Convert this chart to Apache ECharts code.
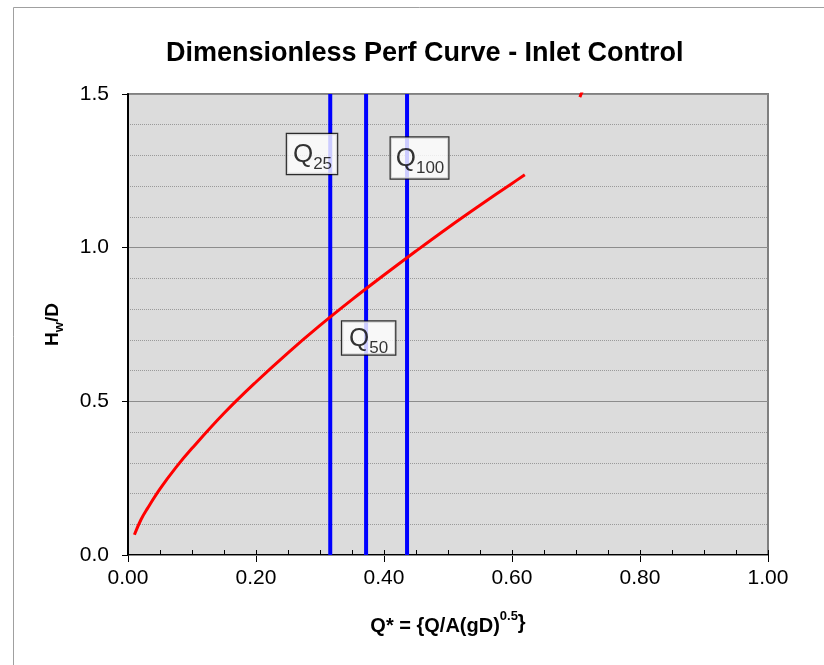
<!DOCTYPE html>
<html>
<head>
<meta charset="utf-8">
<script src="https://cdn.jsdelivr.net/npm/echarts@6/dist/echarts.min.js"></script>
<style>
html,body{margin:0;padding:0;background:#fff;}
#chart{width:824px;height:665px;}
</style>
</head>
<body>
<div id="chart"></div>
<script>
// Performance curve (Q*, Hw/D)
const curveX = [0.01, 0.02, 0.03, 0.05, 0.075, 0.10, 0.15, 0.20, 0.25, 0.30, 0.35, 0.40, 0.45, 0.50, 0.55, 0.60, 0.62];
const curveY = [0.066, 0.114, 0.150, 0.215, 0.285, 0.347, 0.461, 0.563, 0.658, 0.747, 0.831, 0.911, 0.989, 1.065, 1.138, 1.209, 1.237];
// Second (submerged) branch, mostly above the plotted range
const branch2X = [0.706, 0.72];
const branch2Y = [1.49, 1.56];
// Design flows Q*
const flowNames = ['25', '50', '100'];
const flowQ = [0.316, 0.372, 0.436];
// Label anchor values (x, y in data units)
const labelX = [0.2875, 0.376, 0.4555];
const labelY = [1.305, 0.706, 1.292];
// Axis ticks
const xTicks = ['0.00', '0.20', '0.40', '0.60', '0.80', '1.00'];
const yTicks = ['0.0', '0.5', '1.0', '1.5'];

const FONT = '"Liberation Sans", Arial, sans-serif';
const chart = echarts.init(document.getElementById('chart'), null, {renderer: 'canvas'});

const series = [];
series.push({
  type: 'line', name: 'curve', data: curveX.map((x, i) => [x, curveY[i]]),
  smooth: 0.4, symbol: 'none', lineStyle: {color: '#FF0000', width: 3}, z: 5, silent: true
});
series.push({
  type: 'line', name: 'curve2', data: branch2X.map((x, i) => [x, branch2Y[i]]),
  symbol: 'none', lineStyle: {color: '#FF0000', width: 3}, clip: true, z: 5, silent: true
});
flowQ.forEach((q, i) => {
  series.push({
    type: 'line', name: 'Q' + flowNames[i], data: [[q, 0], [q, 1.5]],
    symbol: 'none', lineStyle: {color: '#0000FF', width: 4}, z: 4, silent: true
  });
});
const pads = [[6, 5, 6, 6], [2, 7, 3, 7], [6, 4, 7, 5]];
series.push({
  type: 'scatter', name: 'labels', symbolSize: 0, z: 10, silent: true,
  data: flowNames.map((n, i) => ({
    value: [labelX[i], labelY[i]],
    label: {
      show: true, position: 'inside',
      formatter: '{q|Q}{s|' + n + '}',
      backgroundColor: '#FFFFFF', borderColor: '#000000', borderWidth: 1.2,
      padding: pads[i],
      rich: {
        q: {fontFamily: FONT, fontSize: 26, color: '#000', lineHeight: 28, verticalAlign: 'bottom'},
        s: {fontFamily: FONT, fontSize: 17, color: '#000', lineHeight: 28, verticalAlign: 'bottom', padding: [0, 0, -5, 0]}
      }
    }
  }))
});

chart.setOption({
  animation: false,
  backgroundColor: '#FFFFFF',
  title: {
    text: 'Dimensionless Perf Curve - Inlet Control',
    left: 166, top: 40,
    textStyle: {fontFamily: FONT, fontSize: 27, fontWeight: 'bold', color: '#000'},
    padding: 0, itemGap: 0
  },
  graphic: [{
    type: 'rect', shape: {x: 13.5, y: 7.5, width: 1000, height: 1000},
    style: {fill: 'none', stroke: '#A0A0A0', lineWidth: 1}, silent: true, z: -10
  }],
  grid: {
    left: 128, right: 56, top: 94, bottom: 110,
    show: true, backgroundColor: '#DCDCDC', borderColor: '#808080', borderWidth: 2
  },
  xAxis: [{
    type: 'value', min: 0, max: 1, interval: 0.2, position: 'bottom',
    name: '{a|Q* = {Q/A(gD)}{b|0.5}}',
    nameLocation: 'middle', nameGap: 55,
    nameTextStyle: {
      fontFamily: FONT, fontSize: 20, fontWeight: 'bold', color: '#000', lineHeight: 26,
      rich: {
        a: {fontFamily: FONT, fontSize: 20, fontWeight: 'bold', color: '#000', lineHeight: 26, verticalAlign: 'bottom'},
        b: {fontFamily: FONT, fontSize: 13, fontWeight: 'bold', color: '#000', lineHeight: 26, verticalAlign: 'top', padding: [0, 0, 9, 0]}
      }
    },
    axisLine: {show: true, onZero: false, lineStyle: {color: '#000', width: 2}},
    axisTick: {show: true, inside: false, length: 7, lineStyle: {color: '#000', width: 1}},
    axisLabel: {
      fontFamily: FONT, fontSize: 21, color: '#000', margin: 13,
      formatter: v => xTicks[Math.round(v / 0.2)]
    },
    splitLine: {show: false}
  }, {
    type: 'value', min: 0, max: 1, interval: 0.05, position: 'bottom',
    axisLine: {show: false},
    axisTick: {show: true, inside: true, length: 5, lineStyle: {color: '#000', width: 1}},
    axisLabel: {show: false}, splitLine: {show: false}
  }],
  yAxis: [{
    type: 'value', min: 0, max: 1.5, interval: 0.5, position: 'left',
    name: '{a|H}{b|w}{a|/D}',
    nameLocation: 'middle', nameGap: 66, nameRotate: 90,
    nameTextStyle: {
      fontFamily: FONT, fontSize: 19, fontWeight: 'bold', color: '#000',
      rich: {
        a: {fontFamily: FONT, fontSize: 19, fontWeight: 'bold', color: '#000', lineHeight: 24, verticalAlign: 'bottom'},
        b: {fontFamily: FONT, fontSize: 13, fontWeight: 'bold', color: '#000', lineHeight: 24, verticalAlign: 'bottom', padding: [0, 0, -4, 0]}
      }
    },
    axisLine: {show: true, onZero: false, lineStyle: {color: '#000', width: 2}},
    axisTick: {show: true, inside: false, length: 6, lineStyle: {color: '#000', width: 1}},
    axisLabel: {
      fontFamily: FONT, fontSize: 21, color: '#000', margin: 19,
      formatter: v => yTicks[Math.round(v / 0.5)]
    },
    splitLine: {show: true, lineStyle: {color: '#8C8C8C', width: 1, type: 'solid'}},
    z: 3
  }, {
    type: 'value', min: 0, max: 1.5, interval: 0.1, position: 'left',
    axisLine: {show: false}, axisTick: {show: false}, axisLabel: {show: false},
    splitLine: {show: true, lineStyle: {color: '#9A9A9A', width: 1, type: [1, 1]}},
    z: 1
  }],
  series: series
});
</script>
</body>
</html>
